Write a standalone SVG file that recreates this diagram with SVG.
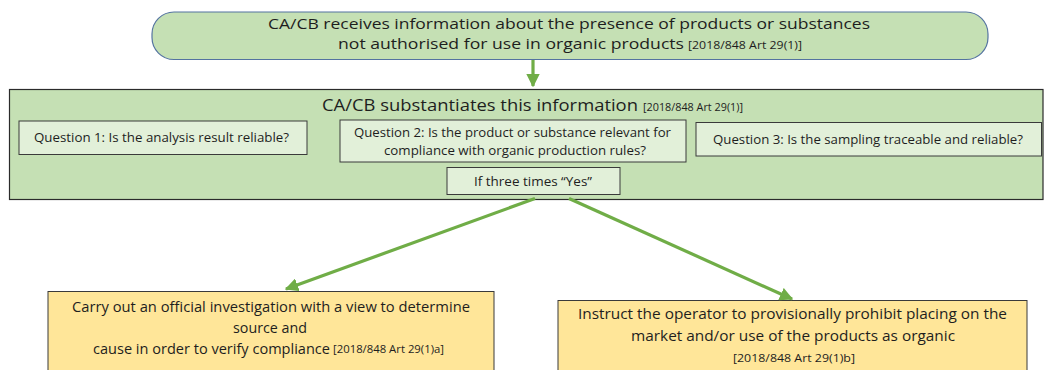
<svg xmlns="http://www.w3.org/2000/svg" width="1045" height="370" viewBox="0 0 1045 370">
<defs>
<style>
text{font-family:"Open Sans","Noto Sans","Liberation Sans",sans-serif;fill:#1e1e1e}
.t{font-size:15px}
.h{font-size:17px}
.q{font-size:12px}
.o{font-size:14px}
.c{font-size:10.5px}
.inner{fill:#E2F0D9;stroke:#3a3a3a;stroke-width:1}
.orange{fill:#FFE699;stroke:#3a3a3a;stroke-width:1}
.conn{stroke:#70AD47;stroke-width:3.2;fill:none;marker-end:url(#ah)}
</style>
<marker id="ah" viewBox="0 0 10 10" refX="9" refY="5" markerWidth="4.2" markerHeight="4.2" orient="auto" markerUnits="strokeWidth">
<path d="M0,0 L10,5 L0,10 z" fill="#70AD47"/>
</marker>
</defs>
<rect width="1045" height="370" fill="#ffffff"/>

<g id="receive">
<rect x="152" y="12" width="836" height="47.5" rx="22" ry="22" fill="#C5E0B4" stroke="#5473A0" stroke-width="1.2"/>
<text class="t" x="268" y="29" textLength="602" lengthAdjust="spacingAndGlyphs">CA/CB receives information about the presence of products or substances</text>
<text class="t" x="338" y="49" textLength="346" lengthAdjust="spacingAndGlyphs">not authorised for use in organic products</text>
<text class="c" x="688" y="48.5" textLength="114" lengthAdjust="spacingAndGlyphs">[2018/848  Art 29(1)]</text>
</g>

<g id="substantiate">
<rect x="9.5" y="89.5" width="1033.5" height="110" fill="#C5E0B4" stroke="#2b2b2b" stroke-width="1.2"/>
<text class="h" x="322" y="111" textLength="316" lengthAdjust="spacingAndGlyphs">CA/CB substantiates this information</text>
<text class="c" x="643" y="110.5" textLength="100" lengthAdjust="spacingAndGlyphs">[2018/848  Art 29(1)]</text>
</g>

<g id="q1">
<rect class="inner" x="19" y="121" width="288" height="33.5"/>
<text class="q" x="34" y="142" textLength="255" lengthAdjust="spacingAndGlyphs">Question 1: Is the analysis result reliable?</text>
</g>

<g id="q2">
<rect class="inner" x="340" y="120" width="346" height="42"/>
<text class="q" x="354" y="137" textLength="317" lengthAdjust="spacingAndGlyphs">Question 2: Is the product  or substance relevant for</text>
<text class="q" x="384" y="155" textLength="262" lengthAdjust="spacingAndGlyphs">compliance with organic production  rules?</text>
</g>

<g id="q3">
<rect class="inner" x="696" y="122.5" width="345.5" height="33.5"/>
<text class="q" x="713" y="143.5" textLength="310" lengthAdjust="spacingAndGlyphs">Question 3: Is the sampling traceable and reliable?</text>
</g>

<g id="yes">
<rect class="inner" x="447" y="167.5" width="173" height="27"/>
<text class="q" x="474" y="186" textLength="118" lengthAdjust="spacingAndGlyphs">If three times “Yes”</text>
</g>

<g id="investigate">
<rect class="orange" x="48" y="291.5" width="446" height="100"/>
<text class="o" x="72" y="312" textLength="398" lengthAdjust="spacingAndGlyphs">Carry out an official investigation with a view to determine</text>
<text class="o" x="233" y="333" textLength="74" lengthAdjust="spacingAndGlyphs">source and</text>
<text class="o" x="93" y="353.5" textLength="237" lengthAdjust="spacingAndGlyphs">cause in order to verify compliance</text>
<text class="c" x="333" y="353" textLength="111" lengthAdjust="spacingAndGlyphs">[2018/848  Art 29(1)a]</text>
</g>

<g id="prohibit">
<rect class="orange" x="558" y="300.5" width="469" height="90"/>
<text class="o" x="578" y="318.5" textLength="429" lengthAdjust="spacingAndGlyphs">Instruct the operator to provisionally prohibit placing on the</text>
<text class="o" x="631" y="340.5" textLength="324" lengthAdjust="spacingAndGlyphs">market and/or use of the products as organic</text>
<text class="c" x="733" y="362" textLength="122" lengthAdjust="spacingAndGlyphs">[2018/848  Art 29(1)b]</text>
</g>

<g id="connectors">
<line class="conn" x1="533" y1="60" x2="533" y2="86"/>
<line class="conn" x1="535" y1="198.5" x2="286" y2="289"/>
<line class="conn" x1="569" y1="198.5" x2="792" y2="299"/>
</g>
</svg>
